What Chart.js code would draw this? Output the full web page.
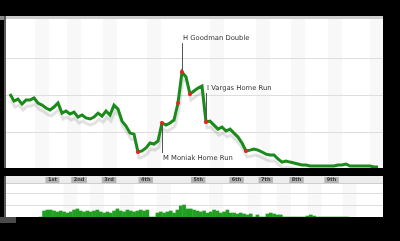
<!DOCTYPE html>
<html>
<head>
<meta charset="utf-8">
<script src="https://cdn.jsdelivr.net/npm/chart.js@4/dist/chart.umd.min.js"></script>
<style>
    html, body { margin: 0; padding: 0; background: #000; width: 400px; height: 241px; overflow: hidden; }
    .box { position: absolute; }
    #wpWrap { left: 4px; top: 16px; width: 379px; height: 152px; }
    #levWrap { left: 4px; top: 176px; width: 379px; height: 41px; }
</style>
</head>
<body>
<div class="box" style="left:0;top:16px;width:8px;height:4px;background:#8a8a8a"></div>
<div class="box" id="wpWrap"><canvas id="wpChart"></canvas></div>
<div class="box" id="levWrap"><canvas id="levChart"></canvas></div>
<div class="box" style="left:0;top:217px;width:16px;height:6px;background:#4a4a4a"></div>

<script>
// win probability per plate appearance (%)
const winProb = [
    50.7, 45.9, 47.3, 43.9, 46.6, 46.6, 48.0, 44.6, 43.2, 41.2,
    39.9, 41.9, 44.6, 37.8, 39.2, 37.2, 38.5, 35.1, 36.5, 34.5,
    33.8, 35.1, 37.8, 35.8, 39.2, 36.5, 43.2, 40.5, 32.4, 29.1,
    24.3, 23.6, 11.5, 12.2, 14.2, 17.6, 16.9, 18.9, 31.1, 29.7,
    31.1, 33.1, 44.6, 65.5, 62.2, 50.7, 52.7, 54.7, 56.1, 31.8,
    32.4, 29.7, 27.0, 28.4, 25.7, 27.0, 24.3, 21.6, 17.6, 12.2,
    12.8, 13.5, 12.8, 11.5, 10.1, 9.5, 9.5, 6.8, 4.7, 5.4,
    4.7, 4.1, 3.4, 2.7, 2.7, 2.0, 2.0, 2.0, 2.0, 2.0,
    2.0, 2.0, 2.7, 2.7, 3.4, 2.0, 2.0, 2.0, 2.0, 2.0,
    2.0, 1.4, 1.4
];

// leverage per plate appearance
const leverage = [
    0,
    0.5, 0.58, 0.58, 0.5, 0.42, 0.5, 0.42, 0.33, 0.42, 0.58,
    0.67, 0.5, 0.42, 0.5, 0.42, 0.5, 0.58, 0.42, 0.33, 0.42,
    0.33, 0.5, 0.67, 0.5, 0.42, 0.58, 0.5, 0.42, 0.5, 0.58,
    0.5, 0.58,
    0, 0,
    0.33, 0.42, 0.33, 0.42, 0.5, 0.33, 0.58, 0.92, 1.0, 0.67,
    0.67, 0.58, 0.5, 0.42, 0.5, 0.33, 0.42, 0.58, 0.5, 0.33,
    0.42, 0.58, 0.33, 0.33, 0.25, 0.33,
    0.25, 0.17, 0.25, 0, 0.17, 0, 0, 0.25, 0.33, 0.25,
    0.17, 0.17, 0, 0, 0, 0, 0, 0, 0, 0.08,
    0.17, 0.08, 0, 0, 0, 0, 0, 0, 0, 0,
    0, 0
];

// big plays (red dots) and the labelled ones
const eventIdx = [32, 38, 42, 43, 45, 49, 59];
const labelIdx = [43, 49, 38];
const labelText = ['H Goodman Double', 'I Vargas Home Run', 'M Moniak Home Run'];
const labelSide = ['up', 'up', 'down'];

// innings along the x axis (plate appearance index)
const inningAt = [3.5, 11.5, 20.5, 31.5, 47.25, 58.75, 67.5, 76.75, 87.25];
const inningLabels = ['1st', '2nd', '3rd', '4th', '5th', '6th', '7th', '8th', '9th'];

const wpGrid = [25, 50, 75];
const levGrid = [1, 2];

const xMin = -1, xMax = 93.25;
const FONT = '"DejaVu Sans", Verdana, sans-serif';

// white panel, left border, stripes and grid
function panelPlugin(gridVals, stripTop) {
    return {
        id: 'panel',
        beforeDraw(chart) {
            const ctx = chart.ctx;
            const w = chart.width, h = chart.height;
            const xs = chart.scales.x, ys = chart.scales.y;
            ctx.save();
            ctx.fillStyle = '#fff';
            ctx.fillRect(2, stripTop, w - 2, h - stripTop);
            inningAt.forEach(v => {
                const px = xs.getPixelForValue(v);
                ctx.fillStyle = '#f8f8f8';
                ctx.fillRect(px + 11, stripTop, 14, h - stripTop);
            });
            ctx.fillStyle = '#5a5a5a';
            ctx.fillRect(0, 0, 2, h);
            ctx.strokeStyle = '#dedede';
            ctx.lineWidth = 1;
            gridVals.forEach(v => {
                const py = Math.round(ys.getPixelForValue(v)) + 0.5;
                ctx.beginPath();
                ctx.moveTo(2, py);
                ctx.lineTo(w, py);
                ctx.stroke();
            });
            ctx.restore();
        }
    };
}

const shadowPlugin = {
    id: 'shadow',
    beforeDatasetDraw(chart) {
        const ctx = chart.ctx;
        ctx.save();
        ctx.shadowColor = 'rgba(0,0,0,0.12)';
        ctx.shadowOffsetX = 1;
        ctx.shadowOffsetY = 6;
        ctx.shadowBlur = 1;
    },
    afterDatasetDraw(chart) {
        chart.ctx.restore();
    }
};

const eventsPlugin = {
    id: 'events',
    afterDatasetsDraw(chart) {
        const ctx = chart.ctx;
        const pts = chart.getDatasetMeta(0).data;
        ctx.save();
        // labels with leader lines
        ctx.font = '6.8px ' + FONT;
        ctx.textBaseline = 'middle';
        ctx.textAlign = 'left';
        labelIdx.forEach((idx, k) => {
            const p = pts[idx];
            const x = Math.round(p.x) + 0.5;
            const up = labelSide[k] === 'up';
            ctx.strokeStyle = '#555';
            ctx.lineWidth = 1;
            ctx.beginPath();
            ctx.moveTo(x, up ? p.y - 2 : p.y + 2);
            ctx.lineTo(x, up ? p.y - 29 : p.y + 30);
            ctx.stroke();
            ctx.fillStyle = '#333';
            ctx.fillText(labelText[k], p.x + 1, up ? p.y - 34 : p.y + 35);
        });
        // red dots
        ctx.fillStyle = '#e8231c';
        eventIdx.forEach(idx => {
            const p = pts[idx];
            ctx.beginPath();
            ctx.arc(p.x, p.y, 2, 0, Math.PI * 2);
            ctx.fill();
        });
        ctx.restore();
    }
};

const inningPlugin = {
    id: 'innings',
    beforeDraw(chart) {
        const ctx = chart.ctx;
        const xs = chart.scales.x;
        ctx.save();
        ctx.fillStyle = '#ececec';
        ctx.fillRect(2, 0, chart.width - 2, 7);
        ctx.font = 'bold 5px ' + FONT;
        ctx.textAlign = 'center';
        ctx.textBaseline = 'middle';
        inningAt.forEach((v, k) => {
            const px = xs.getPixelForValue(v);
            const tw = ctx.measureText(inningLabels[k]).width + 5;
            ctx.fillStyle = '#b4b4b4';
            ctx.fillRect(px - tw / 2, 1, tw, 6);
            ctx.fillStyle = '#333';
            ctx.fillText(inningLabels[k], px, 4);
        });
        ctx.fillStyle = '#cfcfcf';
        ctx.fillRect(2, 7, chart.width - 2, 1);
        ctx.restore();
    }
};

function initCharts() {
    const wpCtx = document.getElementById('wpChart').getContext('2d');
    new Chart(wpCtx, {
        type: 'line',
        data: {
            datasets: [{
                data: winProb.map((v, i) => ({ x: i, y: v })),
                borderColor: '#1a8a1a',
                borderWidth: 3,
                pointRadius: 0,
                tension: 0,
                fill: false
            }]
        },
        options: {
            responsive: true,
            maintainAspectRatio: false,
            animation: false,
            layout: { padding: { left: 2, right: 0, top: 3, bottom: 0 } },
            scales: {
                x: { type: 'linear', min: xMin, max: xMax, display: false },
                y: { min: 0.7, max: 101.4, display: false }
            },
            plugins: { legend: { display: false }, tooltip: { enabled: false } }
        },
        plugins: [panelPlugin(wpGrid, 0), shadowPlugin, eventsPlugin, {
            id: 'topStrip',
            afterDraw(chart) {
                const ctx = chart.ctx;
                ctx.save();
                ctx.fillStyle = '#cdcdcd';
                ctx.fillRect(2, 0, chart.width - 2, 3);
                ctx.restore();
            }
        }]
    });

    const levCtx = document.getElementById('levChart').getContext('2d');
    new Chart(levCtx, {
        type: 'bar',
        data: {
            datasets: [{
                data: leverage.map((v, i) => ({ x: i, y: v })),
                backgroundColor: '#1f9e1f',
                borderWidth: 0,
                barThickness: 3
            }]
        },
        options: {
            responsive: true,
            maintainAspectRatio: false,
            animation: false,
            layout: { padding: { left: 2, right: 0, top: 7, bottom: 0 } },
            scales: {
                x: { type: 'linear', min: xMin, max: xMax, display: false },
                y: { min: 0, max: 2.83, display: false }
            },
            plugins: { legend: { display: false }, tooltip: { enabled: false } }
        },
        plugins: [panelPlugin(levGrid, 7), inningPlugin]
    });
}

document.addEventListener('DOMContentLoaded', initCharts);
</script>
</body>
</html>
